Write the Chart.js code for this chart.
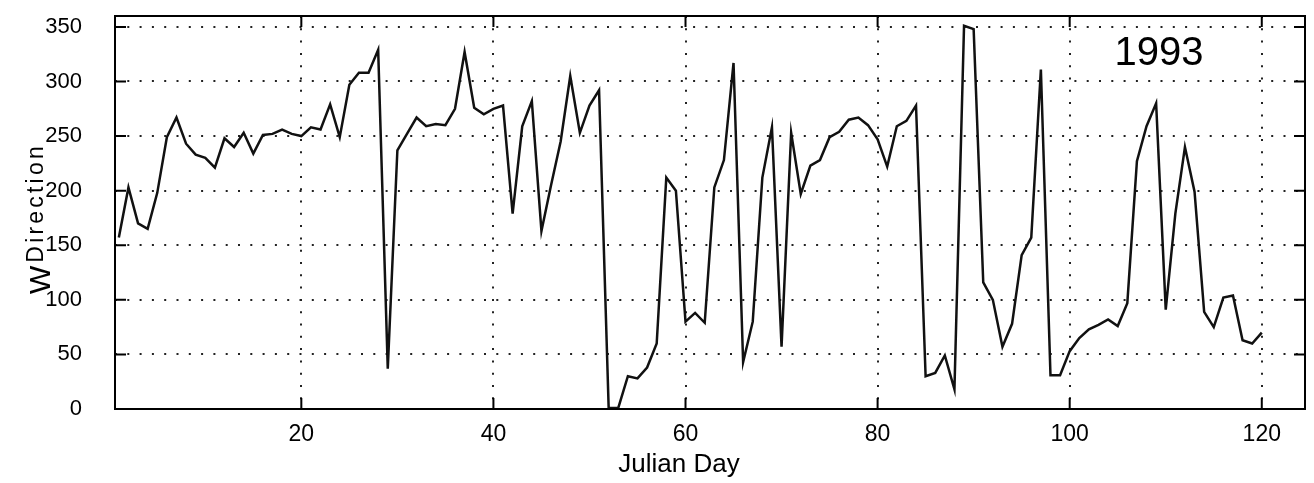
<!DOCTYPE html>
<html lang="en">
<head>
<meta charset="UTF-8">
<title>Wind direction, 1993</title>
<style>
  body { margin: 0; background: #fff; }
  #chart { display: block; }
</style>
</head>
<body>
<canvas id="chart" width="1314" height="483"></canvas>
<script src="https://cdn.jsdelivr.net/npm/chart.js"></script>
<script>
// wind direction (degrees) for Julian days 1..120
const direction = [
  157, 203, 170, 165, 198, 249, 267, 243, 233, 230,
  221, 248, 240, 253, 234, 251, 252, 256, 252, 250,
  258, 256, 279, 249, 297, 308, 308, 329,  37, 237,
  252, 267, 259, 261, 260, 275, 327, 276, 270, 275,
  278, 179, 259, 282, 163, 205, 245, 305, 253, 278,
  292,   1,   1,  30,  28,  38,  60, 212, 200,  80,
   88,  79, 203, 228, 317,  43,  80, 212, 258,  57,
  253, 197, 223, 228, 249, 254, 265, 267, 260, 247,
  222, 259, 264, 278,  30,  33,  49,  18, 351, 348,
  116, 100,  57,  78, 141, 157, 311,  31,  31,  53,
   65,  73,  77,  82,  76,  97, 227, 259, 280,  91,
  179, 240, 199,  89,  75, 102, 104,  63,  60,  70
];
const days = direction.map((v, i) => i + 1);

const xTicks = [20, 40, 60, 80, 100, 120];
const yTicks = [0, 50, 100, 150, 200, 250, 300, 350];
const xRange = [0.6, 124.5];
const yRange = [0, 360];

const yearLabel = '1993';
const xTitle = 'Julian Day';
const yTitleMain = 'W';
const yTitleSub = 'Direction';

const FONT = '"Liberation Sans", Arial, sans-serif';

// MATLAB style: closed box with ticks pointing inward on all four sides
const boxAndTicks = {
  id: 'boxAndTicks',
  afterDatasetsDraw(chart) {
    const { ctx, chartArea: a, scales: { x, y } } = chart;
    const len = 11;
    ctx.save();
    ctx.strokeStyle = '#000';
    ctx.lineWidth = 2;
    ctx.strokeRect(a.left, a.top, a.right - a.left, a.bottom - a.top);
    ctx.beginPath();
    x.ticks.forEach(t => {
      const px = x.getPixelForValue(t.value);
      ctx.moveTo(px, a.bottom); ctx.lineTo(px, a.bottom - len);
      ctx.moveTo(px, a.top); ctx.lineTo(px, a.top + len);
    });
    y.ticks.forEach(t => {
      const py = y.getPixelForValue(t.value);
      ctx.moveTo(a.left, py); ctx.lineTo(a.left + len, py);
      ctx.moveTo(a.right, py); ctx.lineTo(a.right - len, py);
    });
    ctx.stroke();
    ctx.restore();
  }
};

const textLabels = {
  id: 'textLabels',
  afterDraw(chart) {
    const { ctx } = chart;
    ctx.save();
    ctx.fillStyle = '#000';

    // year in the top right corner
    ctx.font = '40px ' + FONT;
    ctx.textAlign = 'center';
    ctx.textBaseline = 'middle';
    ctx.fillText(yearLabel, 1159, 54);

    // x axis title
    ctx.font = '26px ' + FONT;
    ctx.fillText(xTitle, 679, 465);

    // y axis title: W with subscript, rotated
    ctx.translate(50, 294);
    ctx.rotate(-Math.PI / 2);
    ctx.textAlign = 'left';
    ctx.textBaseline = 'alphabetic';
    ctx.font = '30px ' + FONT;
    ctx.fillText(yTitleMain, 0, 0);
    const w = ctx.measureText(yTitleMain).width;
    ctx.font = '23px ' + FONT;
    ctx.letterSpacing = '3.2px';
    ctx.fillText(yTitleSub, w + 3, -7);
    ctx.restore();
  }
};

new Chart(document.getElementById('chart'), {
  type: 'line',
  data: {
    datasets: [{
      data: days.map((d, i) => ({ x: d, y: direction[i] })),
      borderColor: '#111',
      borderWidth: 2.5,
      pointRadius: 0,
      tension: 0,
      fill: false
    }]
  },
  options: {
    responsive: false,
    animation: false,
    layout: { padding: { left: 0, right: 9, top: 16, bottom: 0 } },
    plugins: {
      legend: { display: false },
      tooltip: { enabled: false }
    },
    scales: {
      x: {
        type: 'linear',
        min: xRange[0],
        max: xRange[1],
        afterFit: s => {
          s.height = 74;
          s.paddingLeft = 0;
          s.paddingRight = 0;
        },
        afterBuildTicks: s => { s.ticks = xTicks.map(v => ({ value: v })); },
        grid: { color: '#222', lineWidth: 2, drawTicks: false },
        border: { display: false, dash: [2, 10.3] },
        ticks: {
          color: '#000',
          font: { family: FONT, size: 23 },
          padding: 12,
          maxRotation: 0,
          callback: v => String(v)
        }
      },
      y: {
        min: yRange[0],
        max: yRange[1],
        afterFit: s => {
          s.width = 115;
          s.paddingTop = 0;
          s.paddingBottom = 0;
        },
        afterBuildTicks: s => { s.ticks = yTicks.map(v => ({ value: v })); },
        grid: { color: '#222', lineWidth: 2, drawTicks: false },
        border: { display: false, dash: [2, 10.3] },
        ticks: {
          color: '#000',
          font: { family: FONT, size: 22 },
          padding: 33,
          callback: v => String(v)
        }
      }
    }
  },
  plugins: [boxAndTicks, textLabels]
});
</script>
</body>
</html>
